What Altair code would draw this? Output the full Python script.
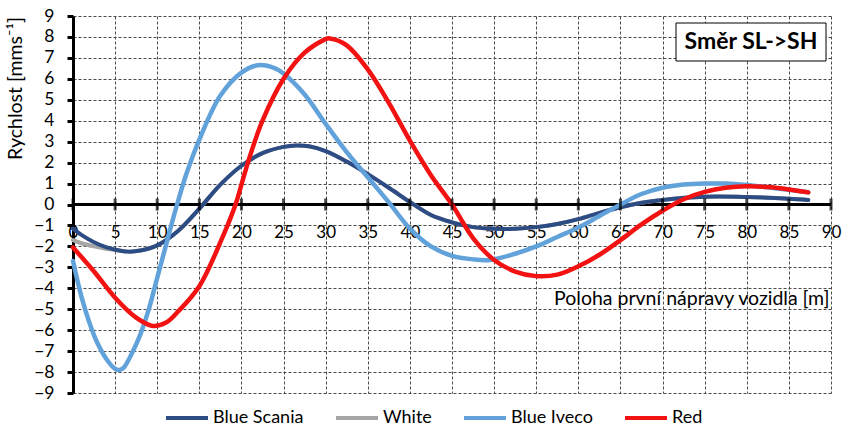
import altair as alt
import pandas as pd

# ---------------- data ----------------
series_names = ["Blue Scania", "White", "Blue Iveco", "Red"]
series_colors = ["#2E4C84", "#A5A5A5", "#62A2DA", "#F21212"]

x_scania = [0, 1, 2.5, 4, 5, 6.5, 8, 10, 12.5, 15, 17.5, 20, 22.5, 25, 26.5, 28, 30, 32.5, 35,
            37.5, 40, 42.5, 45, 47.5, 50, 52.5, 55, 57.5, 60, 62.5, 65, 67.5, 70, 75, 80, 85, 87.3]
y_scania = [-1.15, -1.45, -1.8, -2.05, -2.15, -2.25, -2.2, -1.95, -1.25, -0.2, 0.95, 1.85, 2.45, 2.75,
            2.82, 2.78, 2.55, 2.05, 1.45, 0.8, 0.12, -0.5, -0.85, -1.08, -1.16, -1.16, -1.08, -0.93,
            -0.7, -0.4, -0.13, 0.08, 0.22, 0.37, 0.36, 0.28, 0.22]

x_white = x_scania
y_white = [-1.7, -1.85, -2.0, -2.12, -2.17, -2.25, -2.2, -1.95, -1.25, -0.2, 0.95, 1.85, 2.45, 2.75,
           2.82, 2.78, 2.55, 2.05, 1.45, 0.8, 0.12, -0.5, -0.85, -1.08, -1.16, -1.16, -1.08, -0.93,
           -0.7, -0.4, -0.13, 0.08, 0.22, 0.37, 0.36, 0.28, 0.22]

x_iveco = [0, 1, 2, 3, 4, 5, 5.5, 6, 7, 8, 9, 10, 11, 12, 12.5, 13.5, 15, 17.5, 20, 22, 24, 25, 27.5,
           30, 32.5, 35, 37.5, 40, 42.5, 45, 47.5, 49.5, 52.5, 55, 57.5, 60, 62.5, 65, 67.5, 70, 72.5,
           75, 77.5, 80, 82.5, 85, 87.3]
y_iveco = [-2.7, -4.4, -5.7, -6.7, -7.4, -7.85, -7.9, -7.8, -7.1, -6.2, -5.0, -3.5, -2.0, -0.5, 0.2,
           1.5, 3.1, 5.2, 6.3, 6.65, 6.5, 6.25, 5.25, 3.85, 2.5, 1.3, 0.1, -1.15, -2.0, -2.45, -2.62,
           -2.65, -2.35, -2.0, -1.55, -1.1, -0.55, 0.0, 0.5, 0.8, 0.95, 1.0, 1.0, 0.93, 0.82, 0.7, 0.58]

x_red = [0, 2.5, 5, 7.5, 9.5, 11, 12.5, 15, 17.5, 19.3, 20, 21, 22.5, 25, 27.5, 30, 30.5, 32.5, 35,
         37.5, 40, 42.5, 45, 47.5, 50, 52.5, 55, 57.5, 60, 62.5, 65, 67.5, 70, 72.5, 75, 77.5, 80,
         82.5, 85, 87.3]
y_red = [-2.05, -3.2, -4.45, -5.4, -5.8, -5.65, -5.1, -3.9, -1.8, 0.0, 0.95, 2.3, 4.0, 6.0, 7.25, 7.9,
         7.93, 7.6, 6.45, 4.85, 3.05, 1.4, 0.0, -1.6, -2.65, -3.2, -3.42, -3.35, -2.95, -2.4, -1.7,
         -0.95, -0.3, 0.25, 0.6, 0.8, 0.87, 0.83, 0.72, 0.58]

x_ticks = list(range(0, 91, 5))
y_ticks = list(range(-9, 10, 1))

y_title = "Rychlost  [mms⁻¹]"
x_title = "Poloha první nápravy vozidla [m]"
box_text = "Směr SL->SH"

# ---------------- frames ----------------
rows = []
for name, xs, ys in [("Blue Scania", x_scania, y_scania), ("White", x_white, y_white),
                     ("Blue Iveco", x_iveco, y_iveco), ("Red", x_red, y_red)]:
    for xv, yv in zip(xs, ys):
        rows.append({"series": name, "x": xv, "y": yv})
df = pd.DataFrame(rows)
ticks_df = pd.DataFrame({"x": x_ticks, "y": [0] * len(x_ticks)})
box_df = pd.DataFrame({"label": [box_text]})

FONT = "Lato"
W, H = 758, 377

xscale = alt.Scale(domain=[0, 90], nice=False, zero=False)
yscale = alt.Scale(domain=[-9, 9], nice=False, zero=False)

xaxis = alt.Axis(values=x_ticks, offset=-189, domain=False, ticks=False, grid=True,
                 gridColor="#4a4a4a", gridDash=[3, 2], gridWidth=1,
                 labelFont=FONT, labelFontSize=17, labelColor="#000", labelPadding=20,
                 labelFlush=False, labelOverlap=False,
                 title=x_title, titleFont=FONT, titleFontSize=19.5, titleFontWeight="normal",
                 titleColor="#000", titleAnchor="end", titleAlign="right", titleX=W - 2,
                 titleY=94, titleBaseline="middle")
yaxis = alt.Axis(values=y_ticks, domain=True, domainColor="#000", domainWidth=3,
                 ticks=True, tickColor="#000", tickWidth=3, tickSize=6, grid=True,
                 gridColor="#4a4a4a", gridDash=[3, 2], gridWidth=1,
                 labelFont=FONT, labelFontSize=17.5, labelColor="#000", labelPadding=13,
                 labelFlush=False, labelOverlap=False,
                 title=y_title, titleFont=FONT, titleFontSize=19.5, titleFontWeight="normal",
                 titleColor="#000", titleX=-58, titleY=72, titleAlign="center",
                 titleBaseline="middle", titleAngle=-90)

color = alt.Color("series:N", scale=alt.Scale(domain=series_names, range=series_colors),
                  legend=alt.Legend(orient="none", legendX=91, legendY=379, direction="horizontal",
                                    columns=4, title=None, symbolType="stroke", symbolSize=1764,
                                    symbolStrokeWidth=4, labelFont=FONT, labelFontSize=18,
                                    labelColor="#000", columnPadding=24, labelOffset=3))

base = alt.Chart(df)


def series_layer(name, width):
    return base.transform_filter(alt.datum.series == name).mark_line(
        interpolate="catmull-rom", strokeWidth=width, strokeCap="round"
    ).encode(
        x=alt.X("x:Q", scale=xscale, axis=xaxis),
        y=alt.Y("y:Q", scale=yscale, axis=yaxis),
        color=color,
        detail="series:N",
    )


zero_line = alt.Chart(ticks_df).mark_rule(color="#000", strokeWidth=3).encode(
    y=alt.Y("y:Q", scale=yscale, axis=yaxis),
)
zero_ticks = alt.Chart(ticks_df).mark_tick(color="#000", thickness=3, size=12, orient="vertical").encode(
    x=alt.X("x:Q", scale=xscale, axis=xaxis),
    y=alt.Y("y:Q", scale=yscale, axis=yaxis),
)

box = alt.Chart(box_df).mark_rect(fill="white", stroke="#000", strokeWidth=1).encode(
    x=alt.value(603), x2=alt.value(753), y=alt.value(7), y2=alt.value(45)
)
box_label = alt.Chart(box_df).mark_text(font=FONT, fontSize=23, fontWeight="bold", color="#000",
                                        align="center", baseline="middle").encode(
    x=alt.value(678), y=alt.value(26), text="label:N"
)

chart = alt.layer(
    zero_line,
    series_layer("White", 4),
    series_layer("Blue Scania", 4),
    series_layer("Blue Iveco", 4.5),
    series_layer("Red", 4.5),
    zero_ticks,
    box,
    box_label,
).properties(
    width=W, height=H,
    autosize=alt.AutoSizeParams(type="none"),
    padding={"left": 73, "top": 16, "right": 18, "bottom": 37},
    background="white",
).configure_view(stroke=None)

chart.save("out.html", embed_options={"renderer": "svg", "actions": False})
